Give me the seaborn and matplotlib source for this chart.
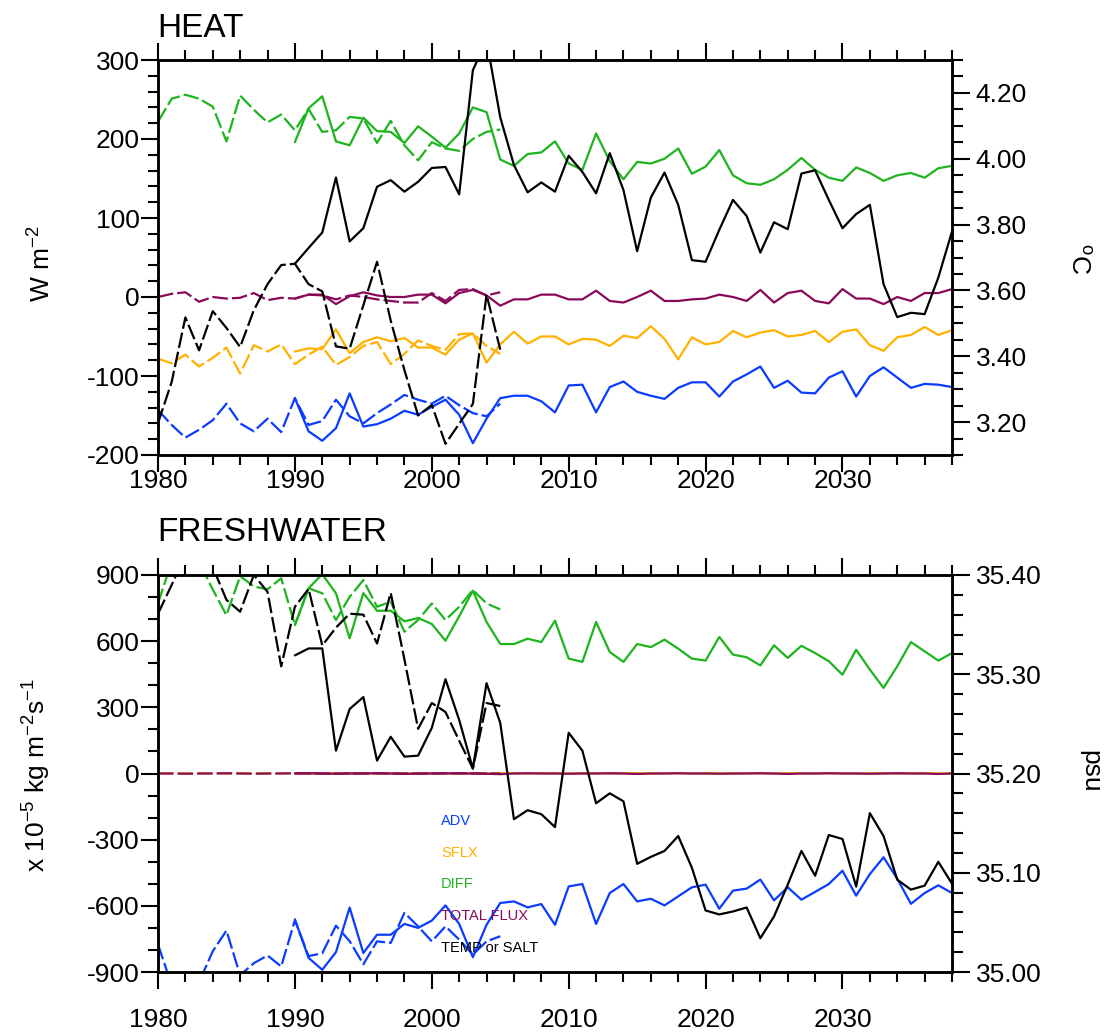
import matplotlib
matplotlib.use("Agg")
import matplotlib.pyplot as plt
import seaborn as sns
from matplotlib.ticker import MultipleLocator, FormatStrFormatter

# --- 1. Datos ---
# Series discontinuas: 1980-2005, series continuas: 1990-2038
anios_d = list(range(1980, 2006))
anios_s = list(range(1990, 2039))

# HEAT (W m-2), eje izquierdo
adv_calor_d = [-143, -162, -178, -168, -156, -135, -160, -170, -154, -171,
               -128, -162, -157, -130, -151, -160, -147, -136, -124, -130,
               -135, -125, -137, -147, -151, -135]
adv_calor_s = [-128, -170, -182, -166, -122, -164, -161, -154, -144, -149,
               -139, -130, -149, -185, -154, -128, -125, -125, -132, -146,
               -112, -111, -146, -114, -107, -120, -125, -129, -115, -108,
               -108, -126, -107, -98, -88, -115, -106, -121, -122, -102,
               -94, -126, -100, -89, -102, -115, -110, -111, -114]
sflx_calor_d = [-78, -84, -73, -88, -77, -64, -97, -61, -69, -60,
                -85, -73, -63, -86, -76, -62, -57, -85, -72, -55,
                -62, -67, -47, -46, -62, -72]
sflx_calor_s = [-69, -65, -66, -41, -71, -57, -51, -56, -52, -64,
                -64, -73, -54, -46, -83, -60, -44, -59, -50, -50,
                -60, -53, -54, -62, -49, -52, -37, -53, -79, -51,
                -60, -57, -43, -51, -45, -42, -50, -48, -43, -57,
                -44, -41, -61, -68, -51, -48, -38, -48, -42]
diff_calor_d = [222, 251, 256, 251, 241, 197, 255, 237, 221, 231,
                211, 238, 209, 211, 228, 226, 195, 223, 192, 173,
                196, 188, 185, 200, 209, 212]
diff_calor_s = [196, 239, 254, 197, 192, 227, 210, 209, 195, 216,
                203, 189, 207, 240, 234, 174, 166, 181, 183, 197,
                169, 161, 207, 172, 149, 171, 169, 175, 188, 156,
                165, 186, 154, 144, 142, 149, 161, 176, 161, 151,
                147, 164, 157, 147, 154, 157, 151, 163, 166]
total_calor_d = [0, 4, 6, -6, 0, -2, -1, 5, -4, -1,
                 -2, 3, 2, -3, 2, 0, -3, -5, -7, -7,
                 5, -5, 9, 10, 2, 6]
total_calor_s = [-2, 3, 3, -9, 1, 6, 2, 0, 0, 3,
                 3, -8, 5, 9, 2, -11, -3, -3, 3, 3,
                 -3, -3, 8, -5, -7, 0, 8, -5, -5, -3,
                 -2, 3, 0, -5, 9, -7, 5, 8, -5, -8,
                 10, -2, -2, -9, 0, -5, 5, 5, 10]
# TEMP (oC), eje derecho
temp_d = [3.197, 3.322, 3.518, 3.418, 3.537, 3.486, 3.428, 3.540, 3.619, 3.677,
          3.681, 3.619, 3.597, 3.430, 3.423, 3.555, 3.687, 3.508, 3.358, 3.220,
          3.252, 3.134, 3.195, 3.255, 3.587, 3.420]
temp_s = [3.681, 3.729, 3.776, 3.943, 3.749, 3.789, 3.915, 3.935, 3.900, 3.930,
          3.972, 3.975, 3.892, 4.269, 4.360, 4.126, 3.981, 3.898, 3.928, 3.900,
          4.009, 3.960, 3.895, 4.017, 3.905, 3.719, 3.882, 3.958, 3.860, 3.692,
          3.687, 3.784, 3.875, 3.826, 3.715, 3.807, 3.786, 3.955, 3.965, 3.875,
          3.789, 3.832, 3.860, 3.619, 3.519, 3.532, 3.528, 3.639, 3.779]

# FRESHWATER (x 10-5 kg m-2 s-1), eje izquierdo
adv_agua_d = [-775, -960, -990, -945, -806, -712, -915, -860, -825, -875,
              -665, -828, -815, -690, -760, -865, -761, -768, -632, -693,
              -761, -693, -753, -821, -761, -738]
adv_agua_s = [-661, -836, -890, -810, -608, -814, -731, -731, -682, -700,
              -667, -598, -682, -833, -686, -587, -580, -607, -592, -686,
              -512, -501, -682, -542, -501, -580, -568, -598, -557, -516,
              -504, -613, -531, -522, -481, -575, -516, -572, -537, -501,
              -441, -554, -456, -380, -477, -591, -542, -507, -542]
sflx_agua_d = [1, 1, 0, 1, 1, 0, 1, 1, 0, 1,
               1, 0, 1, 1, 0, 1, 1, 0, 1, 1,
               0, 1, 1, 0, 1, 1]
sflx_agua_s = [1, 1, 0, 1, 1, 0, 1, 1, 0, 1,
               1, 0, 1, 1, 0, 1, 1, 0, 1, 1,
               0, 1, 1, 0, 1, 1, 0, 1, 1, 0,
               1, 1, 0, 1, 1, 0, 1, 1, 0, 1,
               1, 0, 1, 1, 0, 1, 1, 0, 1]
diff_agua_d = [771, 960, 990, 960, 834, 718, 895, 848, 835, 885,
               673, 840, 817, 696, 801, 877, 756, 779, 643, 696,
               771, 696, 756, 832, 771, 744]
diff_agua_s = [673, 840, 904, 817, 613, 818, 738, 738, 690, 705,
               678, 602, 713, 829, 687, 587, 587, 611, 596, 693,
               521, 506, 687, 551, 506, 587, 573, 607, 566, 521,
               512, 619, 539, 527, 490, 581, 524, 579, 546, 509,
               448, 561, 471, 388, 486, 596, 554, 512, 546]
total_agua_d = [0, 0, -1, 0, 0, 1, 0, -1, 0, 0,
                1, 0, 0, -1, 0, 0, 1, 0, 0, -1,
                0, 0, 1, 0, 0, 0]
total_agua_s = [0, 1, 0, -1, 0, 0, 1, 0, -2, 0,
                0, 1, 0, 0, -1, -3, 0, 1, 0, 0,
                -1, 0, 0, 1, 0, -2, 0, 0, 1, 0,
                0, -1, 0, 0, 1, 0, -2, 0, 0, 1,
                0, 0, -1, 0, 1, 0, 0, -2, 0]
# SALT (psu), eje derecho
sal_d = [35.361, 35.390, 35.420, 35.415, 35.408, 35.375, 35.363, 35.400, 35.383, 35.308,
         35.368, 35.386, 35.329, 35.347, 35.361, 35.360, 35.331, 35.382, 35.315, 35.245,
         35.271, 35.262, 35.233, 35.205, 35.271, 35.268]
sal_s = [35.319, 35.326, 35.326, 35.223, 35.265, 35.277, 35.213, 35.237, 35.217, 35.218,
         35.246, 35.295, 35.254, 35.205, 35.291, 35.251, 35.154, 35.163, 35.159, 35.146,
         35.241, 35.223, 35.170, 35.180, 35.172, 35.109, 35.116, 35.122, 35.137, 35.105,
         35.062, 35.058, 35.061, 35.065, 35.034, 35.056, 35.088, 35.122, 35.097, 35.138,
         35.134, 35.086, 35.160, 35.137, 35.093, 35.083, 35.087, 35.111, 35.089]

nombres = ['ADV', 'SFLX', 'DIFF', 'TOTAL FLUX', 'TEMP or SALT']
colores = ['#0a3cff', '#ffb000', '#1eb41e', '#8a0a5a', 'black']

# --- 2. Estilo ---
sns.set_style("ticks")
plt.rcParams['font.family'] = ['Liberation Sans', 'DejaVu Sans']
plt.rcParams['mathtext.default'] = 'regular'
plt.rcParams['axes.unicode_minus'] = False
# texto en negro puro (seaborn lo pone gris oscuro)
for clave in ['text.color', 'axes.labelcolor', 'xtick.color', 'ytick.color', 'axes.edgecolor']:
    plt.rcParams[clave] = 'black'

DISCONTINUA = (0, (7, 1.8))
ANCHO = 1.6
ANCHO_W, ALTO_H = 1105, 1033


def caja(izq, arriba, der, abajo):
    # convierte pixeles del gráfico original a coordenadas de figura
    return [izq / ANCHO_W, 1 - abajo / ALTO_H, (der - izq) / ANCHO_W, (abajo - arriba) / ALTO_H]


def dibujar_panel(ax, flujos_d, flujos_s, tr_d, tr_s, ylim, paso_y, menor_y,
                  ylim2, paso_y2, menor_y2, fmt2, pad_x):
    # flujos en el eje izquierdo
    for vals_d, vals_s, color in zip(flujos_d, flujos_s, colores[:4]):
        sns.lineplot(x=anios_s, y=vals_s, ax=ax, color=color, linewidth=ANCHO, errorbar=None)
        sns.lineplot(x=anios_d, y=vals_d, ax=ax, color=color, linewidth=ANCHO,
                     linestyle=DISCONTINUA, errorbar=None)
    # temperatura / salinidad en el eje derecho
    ax2 = ax.twinx()
    sns.lineplot(x=anios_s, y=tr_s, ax=ax2, color='black', linewidth=ANCHO, errorbar=None)
    sns.lineplot(x=anios_d, y=tr_d, ax=ax2, color='black', linewidth=ANCHO,
                 linestyle=DISCONTINUA, errorbar=None)

    ax.set_xlim(1980, 2038)
    ax.set_ylim(*ylim)
    ax2.set_ylim(*ylim2)
    ax.set_xlabel('')
    ax.set_ylabel('')
    ax2.set_ylabel('')

    ax.xaxis.set_major_locator(MultipleLocator(10))
    ax.xaxis.set_minor_locator(MultipleLocator(2))
    ax.yaxis.set_major_locator(MultipleLocator(paso_y))
    ax.yaxis.set_minor_locator(MultipleLocator(menor_y))
    ax2.yaxis.set_major_locator(MultipleLocator(paso_y2))
    ax2.yaxis.set_minor_locator(MultipleLocator(menor_y2))
    ax2.yaxis.set_major_formatter(FormatStrFormatter(fmt2))

    ax.tick_params(axis='x', which='both', top=True, bottom=True, direction='out',
                   width=1.5, labelsize=19, pad=pad_x)
    ax.tick_params(axis='y', which='both', left=True, right=False, direction='out',
                   width=1.5, labelsize=19, pad=1)
    ax.tick_params(which='major', length=12)
    ax.tick_params(which='minor', length=7)
    ax2.tick_params(axis='x', which='both', top=False, bottom=False, labelbottom=False)
    ax2.tick_params(axis='y', which='both', direction='out', width=1.5, labelsize=19, pad=4)
    ax2.tick_params(which='major', length=13)
    ax2.tick_params(which='minor', length=8)

    for a in (ax, ax2):
        for s in a.spines.values():
            s.set_visible(True)
            s.set_linewidth(1.8)
            s.set_color('black')
    return ax2


# --- 3. Figura ---
fig = plt.figure(figsize=(ANCHO_W / 100, ALTO_H / 100), dpi=100)

# Panel HEAT
ax_calor = fig.add_axes(caja(158, 60, 952, 455))
dibujar_panel(ax_calor,
              [adv_calor_d, sflx_calor_d, diff_calor_d, total_calor_d],
              [adv_calor_s, sflx_calor_s, diff_calor_s, total_calor_s],
              temp_d, temp_s, (-200, 300), 100, 20,
              (3.1, 4.3), 0.2, 0.05, '%.2f', pad_x=-2)

# Panel FRESHWATER
ax_agua = fig.add_axes(caja(158, 575, 952, 972))
dibujar_panel(ax_agua,
              [adv_agua_d, sflx_agua_d, diff_agua_d, total_agua_d],
              [adv_agua_s, sflx_agua_s, diff_agua_s, total_agua_s],
              sal_d, sal_s, (-900, 900), 300, 100,
              (35.0, 35.4), 0.1, 0.02, '%.2f', pad_x=14)

# Títulos y etiquetas de ejes
fig.text(157 / ANCHO_W, 1 - 37 / ALTO_H, 'HEAT', fontsize=24, va='baseline')
fig.text(157 / ANCHO_W, 1 - 541 / ALTO_H, 'FRESHWATER', fontsize=24, va='baseline')
fig.text(42 / ANCHO_W, 1 - 264 / ALTO_H, r'W m$^{-2}$', fontsize=19, rotation=90,
         ha='center', va='center')
fig.text(37 / ANCHO_W, 1 - 775 / ALTO_H, r'x 10$^{-5}$ kg m$^{-2}$s$^{-1}$', fontsize=19,
         rotation=90, ha='center', va='center')
fig.text(1078 / ANCHO_W, 1 - 259 / ALTO_H, r'$^{o}$C', fontsize=19, rotation=-90,
         ha='center', va='center')
fig.text(1090 / ANCHO_W, 1 - 771 / ALTO_H, 'psu', fontsize=19, rotation=-90,
         ha='center', va='center')

# Leyenda como texto de colores
for i, (nombre, color) in enumerate(zip(nombres, colores)):
    fig.text(441 / ANCHO_W, 1 - (821 + i * 31.7) / ALTO_H, nombre, color=color,
             fontsize=10.5, ha='left', va='center', zorder=10)

fig.savefig('out.png', dpi=100)
print("Gráfico 'out.png' guardado.")
